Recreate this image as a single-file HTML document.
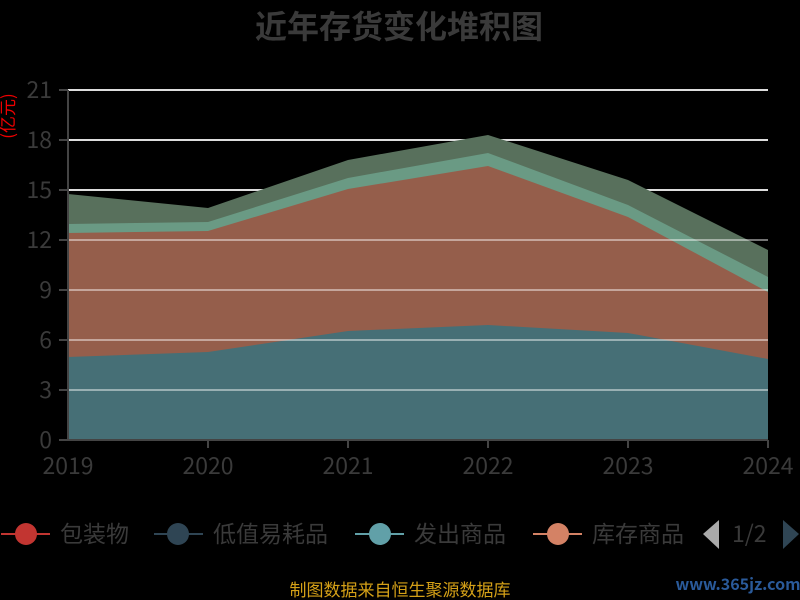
<!DOCTYPE html>
<html><head><meta charset="utf-8"><style>
body{margin:0;background:#000;}
svg{display:block;font-family:"Noto Sans CJK SC","Liberation Sans",sans-serif;}
</style></head><body>
<svg width="800" height="600" viewBox="0 0 800 600">
<rect width="800" height="600" fill="#000"/>
<text x="399" y="38" text-anchor="middle" font-size="32" font-weight="bold" fill="#3a3a3a">近年存货变化堆积图</text>
<text transform="translate(14,116) rotate(-90)" text-anchor="middle" font-size="17" fill="#e00">(亿元)</text>
<g stroke="#ddd" stroke-width="2">
<line x1="68" x2="768" y1="90" y2="90"/><line x1="68" x2="768" y1="140" y2="140"/><line x1="68" x2="768" y1="190" y2="190"/>
</g>
<polygon fill="#58705c" points="68,194 208,208 348,160 488,135 628,180 768,250 768,440 68,440"/>
<polygon fill="#6a9a84" points="68,224 208,222 348,178 488,153 628,205 768,277 768,440 68,440"/>
<polygon fill="#955e4b" points="68,233 208,231 348,189 488,166 628,217 768,292 768,440 68,440"/>
<polygon fill="#466f76" points="68,357 208,352 348,331 488,325 628,333 768,359 768,440 68,440"/>
<g stroke="#fff" stroke-opacity="0.45" stroke-width="2">
<line x1="68" x2="768" y1="240" y2="240"/><line x1="68" x2="768" y1="290" y2="290"/><line x1="68" x2="768" y1="340" y2="340"/><line x1="68" x2="768" y1="390" y2="390"/>
</g>
<g stroke="#444" stroke-width="2">
<line x1="68" x2="68" y1="90" y2="441"/><line x1="68" x2="768" y1="440" y2="440"/>
<line x1="59" x2="68" y1="90" y2="90"/><line x1="59" x2="68" y1="140" y2="140"/><line x1="59" x2="68" y1="190" y2="190"/><line x1="59" x2="68" y1="240" y2="240"/><line x1="59" x2="68" y1="290" y2="290"/><line x1="59" x2="68" y1="340" y2="340"/><line x1="59" x2="68" y1="390" y2="390"/><line x1="59" x2="68" y1="440" y2="440"/>
<line x1="208" x2="208" y1="440" y2="448"/><line x1="348" x2="348" y1="440" y2="448"/><line x1="488" x2="488" y1="440" y2="448"/><line x1="628" x2="628" y1="440" y2="448"/><line x1="768" x2="768" y1="440" y2="448"/>
</g>
<g font-size="23" fill="#3a3a3a" text-anchor="end">
<text x="52" y="98">21</text><text x="52" y="148">18</text><text x="52" y="198">15</text><text x="52" y="248">12</text><text x="52" y="298">9</text><text x="52" y="348">6</text><text x="52" y="398">3</text><text x="52" y="448">0</text>
</g>
<g font-size="23" fill="#3a3a3a" text-anchor="middle">
<text x="68" y="474">2019</text><text x="208" y="474">2020</text><text x="348" y="474">2021</text><text x="488" y="474">2022</text><text x="628" y="474">2023</text><text x="768" y="474">2024</text>
</g>
<g font-size="23" fill="#3a3a3a">
<line x1="1" x2="50" y1="534" y2="534" stroke="#c23531" stroke-width="2"/><circle cx="26" cy="534" r="11" fill="#c23531"/><text x="60" y="542">包装物</text>
<line x1="154" x2="203" y1="534" y2="534" stroke="#2f4554" stroke-width="2"/><circle cx="178" cy="534" r="11" fill="#2f4554"/><text x="213" y="542">低值易耗品</text>
<line x1="355" x2="404" y1="534" y2="534" stroke="#61a0a8" stroke-width="2"/><circle cx="380" cy="534" r="11" fill="#61a0a8"/><text x="414" y="542">发出商品</text>
<line x1="533" x2="582" y1="534" y2="534" stroke="#d48265" stroke-width="2"/><circle cx="558" cy="534" r="11" fill="#d48265"/><text x="592" y="542">库存商品</text>
</g>
<rect x="684" y="510" width="116" height="50" fill="#000"/>
<polygon points="719,520 719,549 703,534" fill="#aaa"/>
<text x="732" y="542" font-size="23" fill="#3a3a3a">1/2</text>
<polygon points="783,520 783,549 799,534" fill="#2f4554"/>
<text x="400" y="596" text-anchor="middle" font-size="17" fill="#d4a017">制图数据来自恒生聚源数据库</text>
<text x="738" y="590" text-anchor="middle" font-size="16" font-weight="bold" fill="#2a5a9a">www.365jz.com</text>
</svg>
</body></html>
